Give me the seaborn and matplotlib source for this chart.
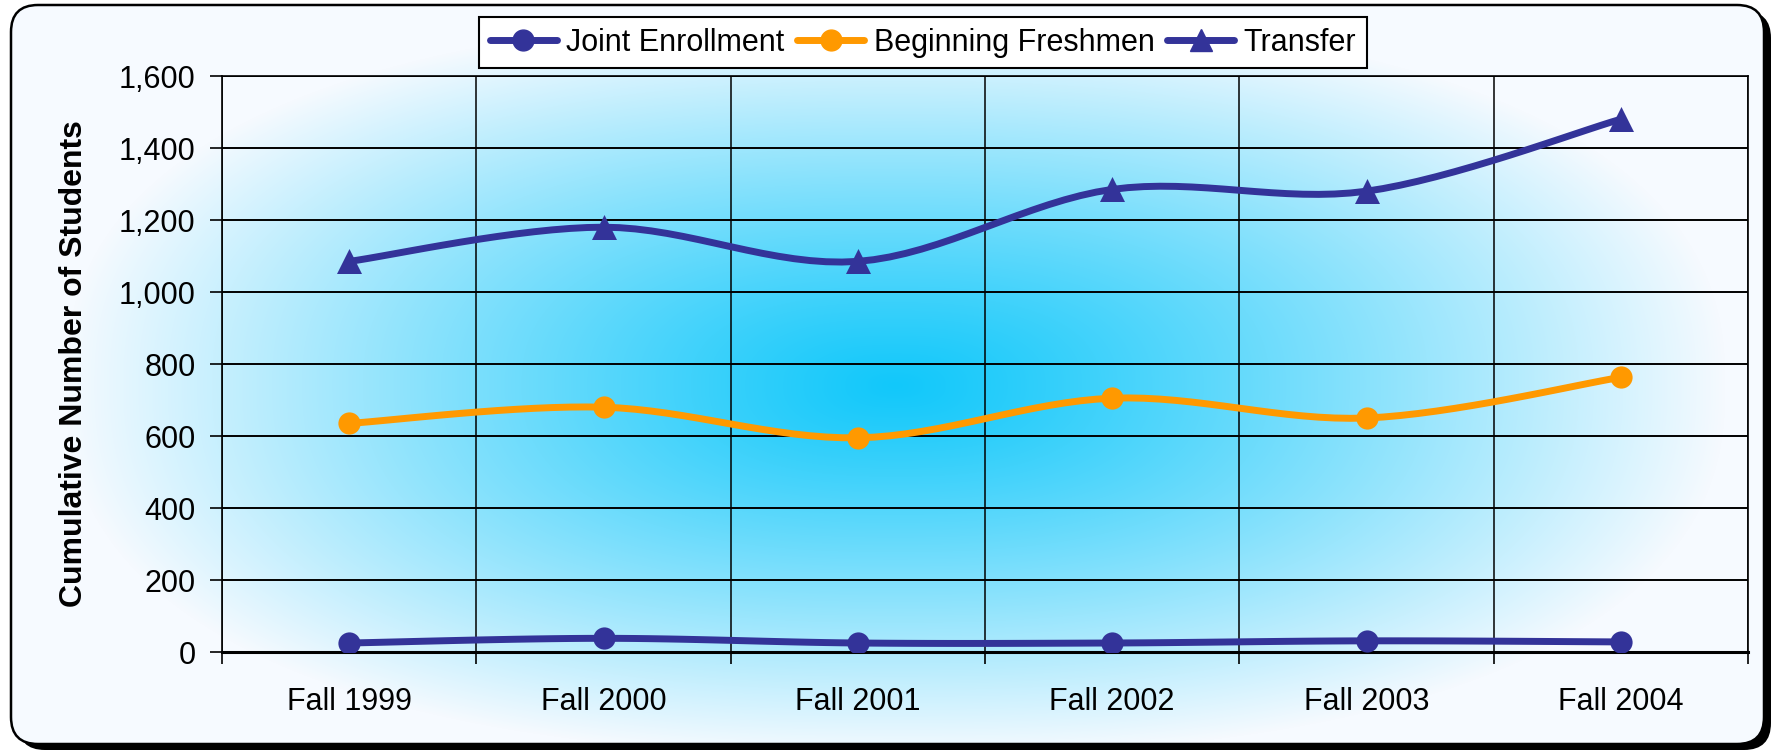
import matplotlib
matplotlib.use("Agg")
import matplotlib.pyplot as plt
import numpy as np
import pandas as pd
import seaborn as sns
from matplotlib.lines import Line2D
from matplotlib.patches import FancyBboxPatch
from matplotlib.ticker import FuncFormatter, FixedLocator

# Data
terms = ["Fall 1999", "Fall 2000", "Fall 2001", "Fall 2002", "Fall 2003", "Fall 2004"]
joint_enrollment = [25, 38, 25, 25, 31, 28]
beginning_freshmen = [635, 680, 595, 705, 650, 763]
transfer = [1085, 1180, 1085, 1285, 1280, 1480]

NAVY = "#333399"
ORANGE = "#FF9900"

sns.set_style("white")
plt.rcParams["font.family"] = ["Liberation Sans", "DejaVu Sans"]
for key in ["text.color", "axes.labelcolor", "xtick.color", "ytick.color"]:
    plt.rcParams[key] = "black"

W, H = 1774, 754
fig = plt.figure(figsize=(W / 100, H / 100), dpi=100)


def smooth_curve(xs, ys, steps=16):
    """Catmull-Rom path through the points (like Excel's smoothed line)."""
    pts = np.column_stack([xs, ys]).astype(float)
    p = np.vstack([pts[0], pts, pts[-1]])
    t = np.linspace(0, 1, steps, endpoint=False)[:, None]
    pieces = []
    for i in range(1, len(p) - 2):
        p0, p1, p2, p3 = p[i - 1], p[i], p[i + 1], p[i + 2]
        pieces.append(0.5 * (2 * p1 + (p2 - p0) * t
                             + (2 * p0 - 5 * p1 + 4 * p2 - p3) * t ** 2
                             + (3 * p1 - p0 - 3 * p2 + p3) * t ** 3))
    pieces.append(pts[-1:])
    out = np.vstack(pieces)
    return out[:, 0], out[:, 1]


# %% Background: rounded frame with shadow and a radial blue fill
bg = fig.add_axes([0, 0, 1, 1], zorder=-10)
bg.set_xlim(0, W)
bg.set_ylim(H, 0)
bg.axis("off")

shadow = FancyBboxPatch((18, 11), 1753, 739, boxstyle="round,pad=0,rounding_size=27",
                        facecolor="black", edgecolor="none", zorder=0)
bg.add_patch(shadow)

yy, xx = np.mgrid[0:H, 0:W]
dist = (np.abs((xx - 895) / 830.0) ** 2.4 + np.abs((yy - 385) / 370.0) ** 2.4) ** (1 / 2.4)
frac = np.clip(dist, 0, 1) ** 1.15
center_rgb = np.array([18, 200, 250]) / 255.0
edge_rgb = np.array([246, 250, 255]) / 255.0
img = center_rgb * (1 - frac[..., None]) + edge_rgb * frac[..., None]

frame = FancyBboxPatch((11, 5), 1753, 739, boxstyle="round,pad=0,rounding_size=27",
                       facecolor="none", edgecolor="black", linewidth=1.8, zorder=2)
bg.add_patch(frame)
im = bg.imshow(img, extent=(0, W, H, 0), aspect="auto", interpolation="bilinear", zorder=1)
im.set_clip_path(frame)

# %% Main chart
left, right, top, bottom = 222, 1748, 76, 652
ax = fig.add_axes([left / W, 1 - bottom / H, (right - left) / W, (bottom - top) / H])
ax.set_facecolor("none")

x_idx = np.arange(len(terms))
series = [
    ("Joint Enrollment", joint_enrollment, NAVY, "o", 16),
    ("Beginning Freshmen", beginning_freshmen, ORANGE, "o", 16),
    ("Transfer", transfer, NAVY, "^", 18),
]
for name, values, color, marker, msize in series:
    sx, sy = smooth_curve(x_idx, values)
    sns.lineplot(x=sx, y=sy, sort=False, estimator=None, color=color,
                 linewidth=5, ax=ax, zorder=3)
    sns.scatterplot(x=x_idx, y=values, marker=marker, s=msize ** 2, color=color,
                    edgecolor=color, linewidth=0, ax=ax, zorder=4, legend=False)

ax.set_xlim(-0.5, len(terms) - 0.5)
ax.set_ylim(0, 1600)
ax.set_yticks(np.arange(0, 1601, 200))
ax.yaxis.set_major_formatter(FuncFormatter(lambda v, _: f"{int(v):,}"))
ax.set_xticks(x_idx)
ax.set_xticklabels(terms)
ax.xaxis.set_minor_locator(FixedLocator(np.arange(-0.5, len(terms), 1.0)))

ax.set_axisbelow(True)
ax.grid(axis="y", which="major", color="black", linewidth=1.4)
ax.grid(axis="x", which="minor", color="black", linewidth=1.1)
ax.grid(axis="x", which="major", visible=False)

for side in ["top", "right", "left"]:
    ax.spines[side].set_visible(True)
    ax.spines[side].set_color("black")
    ax.spines[side].set_linewidth(1.2)
ax.spines["bottom"].set_color("black")
ax.spines["bottom"].set_linewidth(2.2)

ax.tick_params(axis="y", which="major", direction="out", length=8.6, width=1.2,
               pad=10.5, labelsize=22, colors="black", left=True)
ax.tick_params(axis="x", which="major", length=0, pad=25, labelsize=22, colors="black")
ax.tick_params(axis="x", which="minor", direction="out", length=8.6, width=1.2,
               bottom=True, colors="black")

ax.set_xlabel("")
ax.set_ylabel("Cumulative Number of Students", fontsize=23, fontweight="bold")
ax.yaxis.set_label_coords((74 - left) / (right - left), 0.5)
ax.yaxis.label.set_va("center")

handles = [
    Line2D([], [], color=NAVY, linewidth=5, marker="o", markersize=15),
    Line2D([], [], color=ORANGE, linewidth=5, marker="o", markersize=15),
    Line2D([], [], color=NAVY, linewidth=5, marker="^", markersize=16),
]
leg = fig.legend(handles, [s[0] for s in series], loc="upper center",
                 bbox_to_anchor=(923 / W, 1 - 17 / H), ncol=3, fontsize=22,
                 frameon=True, fancybox=False, edgecolor="black", facecolor="white",
                 framealpha=1, borderpad=0.35, handlelength=2.2, handletextpad=0.3,
                 columnspacing=0.42, borderaxespad=0)
leg.get_frame().set_linewidth(1.5)

fig.savefig("out.png", dpi=100)
